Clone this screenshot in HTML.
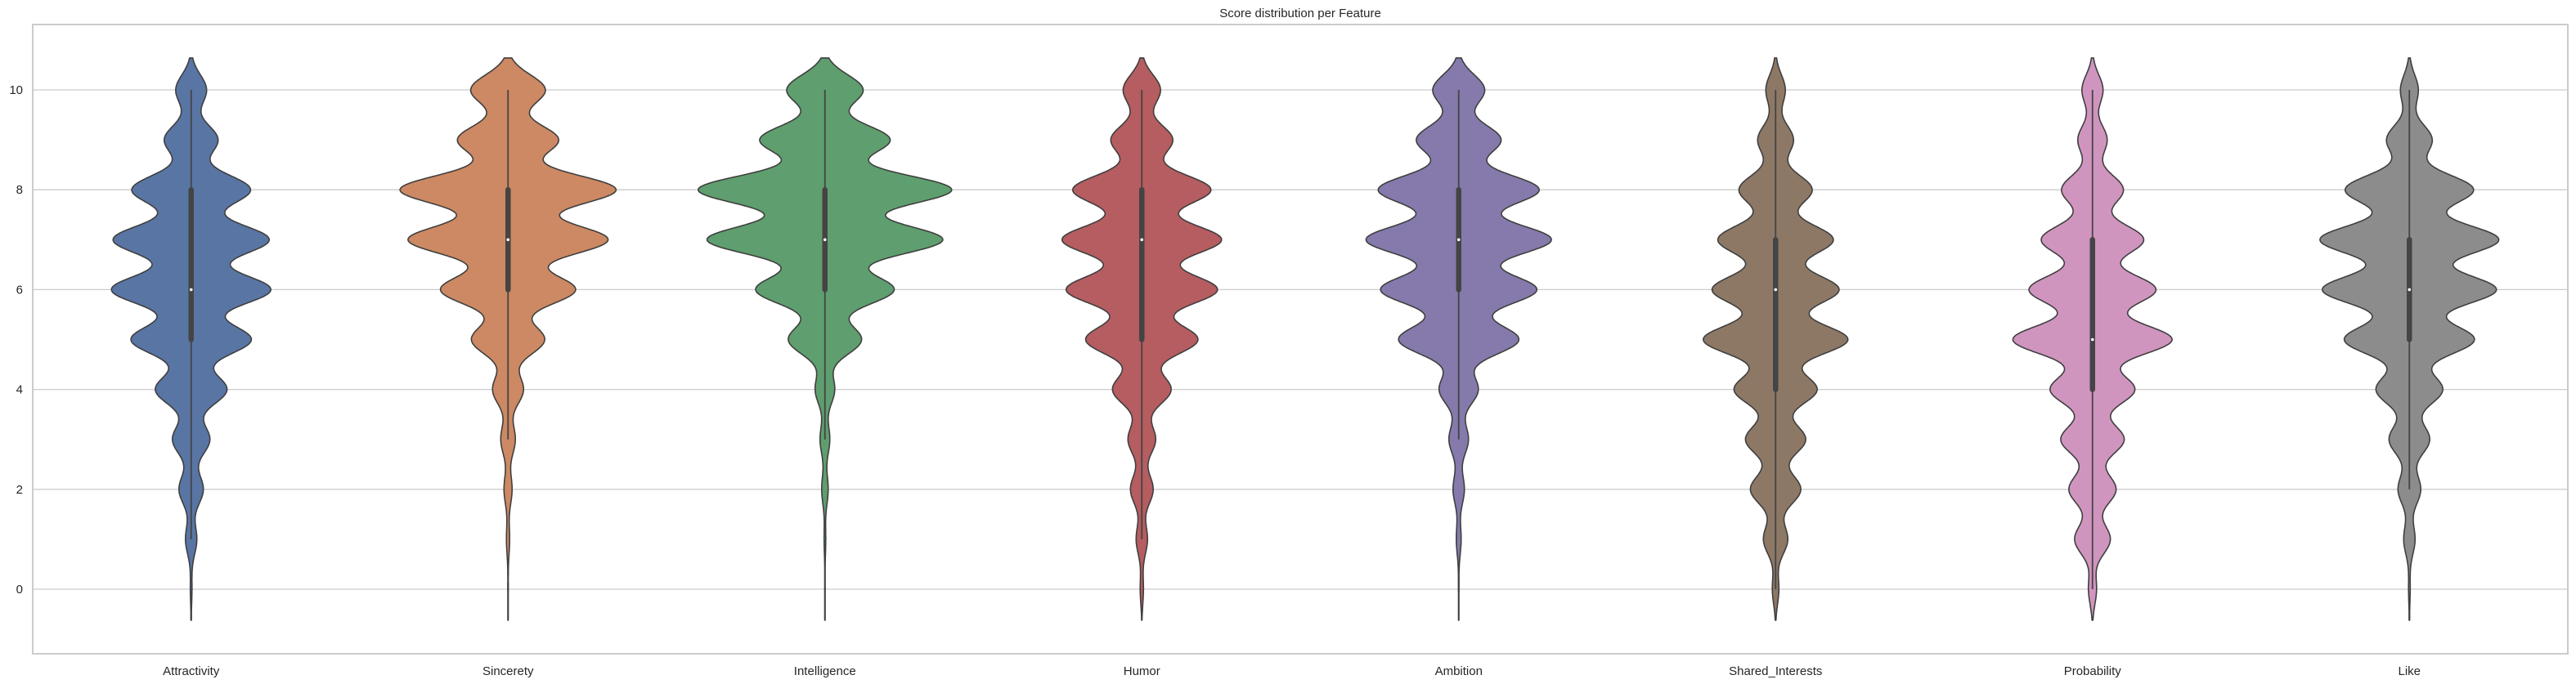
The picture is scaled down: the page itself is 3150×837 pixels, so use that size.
<!DOCTYPE html>
<html><head><meta charset="utf-8"><style>
html,body{margin:0;padding:0;background:#fff;}
svg{display:block;font-family:"Liberation Sans",Arial,sans-serif;}
</style></head><body>
<svg id="chart" width="3150" height="837" viewBox="0 0 3150 837" xmlns="http://www.w3.org/2000/svg">
<rect x="0" y="0" width="3150" height="837" fill="#fff"/>
<text x="1590" y="21" text-anchor="middle" font-size="15" fill="#262626">Score distribution per Feature</text>
<g id="grid"></g>
<g id="violins"></g>
<rect x="40" y="30" width="3100" height="770" fill="none" stroke="#cccccc" stroke-width="2"/>
<g id="yticks"></g>
<g id="xticks"></g>
</svg>
<script>
const categories = ["Attractivity","Sincerety","Intelligence","Humor","Ambition","Shared_Interests","Probability","Like"];
const colors = ["#5975a4","#cc8963","#5f9e6e","#b55d60","#857aab","#8d7866","#d095bf","#8c8c8c"];
// relative density at scores 0..10
const density_attractivity = [1,7,15,23,44,74,98,96,73,33,19];
const density_sincerety   = [0.3,2,5,9,19,45,83,123,133,62,46];
const density_intelligence= [0.3,1,4,6,12,45,85,145,156,80,47];
const density_humor       = [2,7,14,17,36,69,93,98,85,38,23];
const density_ambition    = [0.3,3,7,12,24,74,96,114,99,52,32];
const density_shared      = [4,15,31,37,51,89,78,71,45,22,12];
const density_probability = [5,22,29,39,52,98,78,63,38,18,13];
const density_like        = [1,7,14,25,41,80,107,110,79,28,11];
const q1 = [5,6,6,5,6,4,4,5];
const q3 = [8,8,8,8,8,7,7,7];
const medians = [6,7,7,7,7,6,5,6];
const whiskerLow = [1,3,3,1,3,0,0,2];
const whiskerHigh = [10,10,10,10,10,10,10,10];
const yTicks = [0,2,4,6,8,10];

const densities = [density_attractivity,density_sincerety,density_intelligence,density_humor,density_ambition,density_shared,density_probability,density_like];
const NS="http://www.w3.org/2000/svg";
const L=40,R=3140,T=30,B=800;
const yScale = v => 721 - v*61.1;
const step=(R-L)/categories.length;
const xCenter = i => L + step*(i+0.5);
const bw=0.3;
function kde(d,y){let s=0;for(let k=0;k<d.length;k++){const z=(y-k)/bw;s+=d[k]*Math.exp(-0.5*z*z);}return s;}
let gmax=0;
densities.forEach(d=>{for(let y=0;y<=10;y+=0.02){gmax=Math.max(gmax,kde(d,y));}});
const halfMax=step*0.4;
function mk(tag,attrs,parent){const e=document.createElementNS(NS,tag);for(const k in attrs)e.setAttribute(k,attrs[k]);parent.appendChild(e);return e;}

const grid=document.getElementById('grid'), yt=document.getElementById('yticks');
yTicks.forEach(v=>{
  const l=mk('line',{x1:L,x2:R,y1:yScale(v),y2:yScale(v),stroke:'#cccccc','stroke-width':1.3},grid);
  
  
  const t=mk('text',{x:28,y:yScale(v)+5,'text-anchor':'end','font-size':15,fill:'#262626'},yt);
  t.textContent=v;
  
  
});
const vg=document.getElementById('violins'), xt=document.getElementById('xticks');
categories.forEach((c,i)=>{
  const d=densities[i], cx=xCenter(i);
  const y0=-0.62, y1=10.65;
  const right=[], left=[];
  for(let y=y0;y<=y1+1e-9;y+=0.02){
    const w=Math.max(kde(d,y)/gmax*halfMax,0.3);
    right.push([cx+w,yScale(y)]); left.push([cx-w,yScale(y)]);
  }
  const pts=right.concat(left.reverse()).map(p=>p[0].toFixed(1)+','+p[1].toFixed(1)).join(' ');
  const g=mk('g',{},vg);
  
  
  mk('polygon',{points:pts,fill:colors[i],stroke:'#3f3f3f','stroke-width':1.6,'stroke-linejoin':'round'},g);
  const wh=mk('line',{x1:cx,x2:cx,y1:yScale(whiskerLow[i]),y2:yScale(whiskerHigh[i]),stroke:'#444','stroke-width':1.8},g);
  
  
  const bx=mk('line',{x1:cx,x2:cx,y1:yScale(q1[i]),y2:yScale(q3[i]),stroke:'#444','stroke-width':6.5,'stroke-linecap':'round'},g);
  
  
  const md=mk('circle',{cx:cx,cy:yScale(medians[i]),r:1.8,fill:'#fff'},g);
  
  
  const t=mk('text',{x:cx,y:826,'text-anchor':'middle','font-size':15,fill:'#262626'},xt);
  t.textContent=c;
  
  
});
</script>
</body></html>
